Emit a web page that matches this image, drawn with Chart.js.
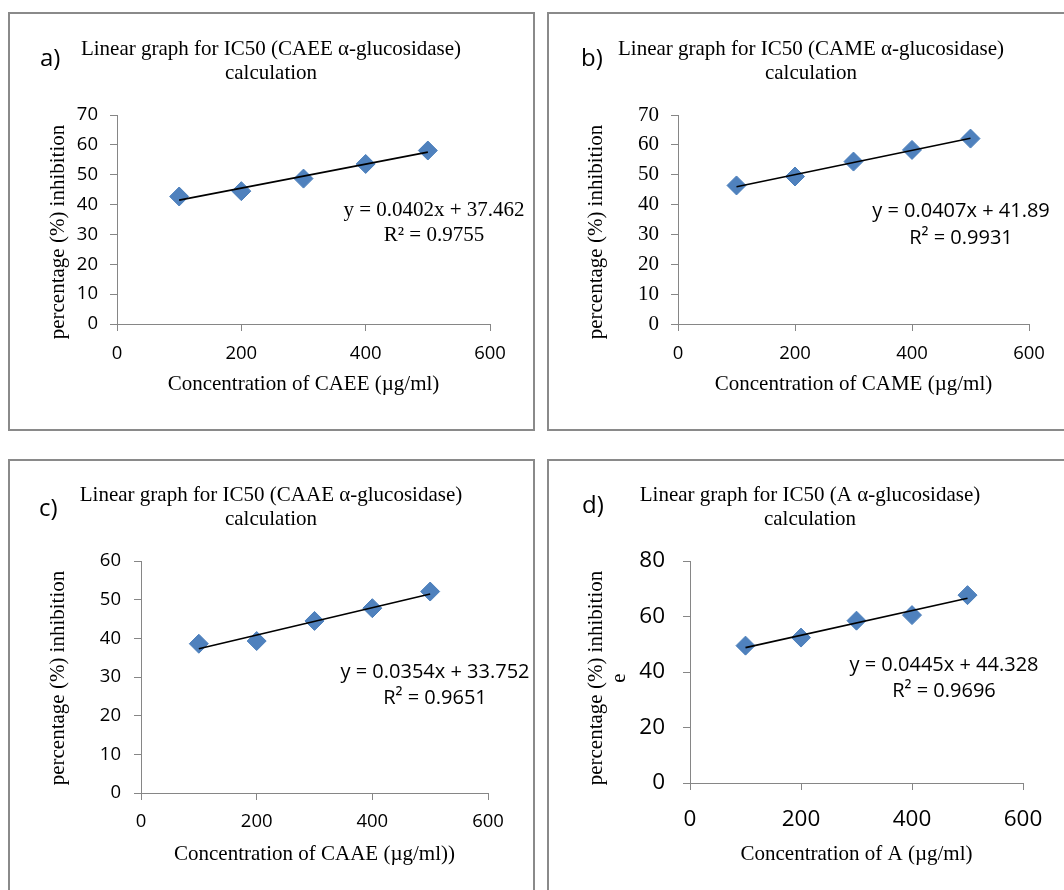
<!DOCTYPE html>
<html>
<head>
<meta charset="utf-8">
<script src="https://cdn.jsdelivr.net/npm/chart.js@4.4.0/dist/chart.umd.min.js"></script>
<style>
  body { margin: 0; background: #fff; width: 1064px; height: 890px; overflow: hidden; position: relative; }
  .panel { position: absolute; border: 2px solid #8a8a8a; box-sizing: border-box; }
  canvas { position: absolute; }
</style>
</head>
<body>
<script>
// concentrations (µg/ml) shared by all four extracts
const concentrations = [100, 200, 300, 400, 500];

// % inhibition for each extract
const inhibitionCAEE = [42.7, 44.5, 48.7, 53.6, 58.1];
const inhibitionCAME = [46.4, 49.4, 54.4, 58.3, 62.1];
const inhibitionCAAE = [38.6, 39.3, 44.5, 47.8, 52.1];
const inhibitionA = [49.5, 52.4, 58.5, 60.5, 67.7];

// linear fits as reported
const fitSlopes = [0.0402, 0.0407, 0.0354, 0.0445];
const fitIntercepts = [37.462, 41.89, 33.752, 44.328];
const fitR2 = ['0.9755', '0.9931', '0.9651', '0.9696'];

const panelLetters = ['a)', 'b)', 'c)', 'd)'];
const chartTitles = [
  ['Linear graph for IC50 (CAEE α-glucosidase)', 'calculation'],
  ['Linear graph for IC50 (CAME α-glucosidase)', 'calculation'],
  ['Linear graph for IC50 (CAAE α-glucosidase)', 'calculation'],
  ['Linear graph for IC50 (A α-glucosidase)', 'calculation']
];
const xTitles = [
  'Concentration of CAEE (µg/ml)',
  'Concentration of CAME (µg/ml)',
  'Concentration of CAAE (µg/ml))',
  'Concentration of A (µg/ml)'
];
const yTitles = [
  ['percentage (%) inhibition'],
  ['percentage (%) inhibition'],
  ['percentage (%) inhibition'],
  ['percentage (%) inhibition', 'e']
];
const xMin = 0, xMax = 600, xStep = 200;
const yMaxes = [70, 70, 60, 80];
const ySteps = [10, 10, 10, 20];

const seriesList = [inhibitionCAEE, inhibitionCAME, inhibitionCAAE, inhibitionA];

const SERIF = '"Liberation Serif", "Times New Roman", serif';
const SANS = '"Open Sans", "Liberation Sans", sans-serif';

// box and plot-area geometry for each panel (canvas pixels);
// boxHeight lets the lower frames run past the page edge
const panelLayouts = [
  { left: 8, top: 12, width: 527, height: 419, boxHeight: 419, area: { left: 109, right: 482, top: 103, bottom: 312 },
    xTitlePad: 34, yTickFont: { family: SANS, size: 18.5 }, yTickPad: 12, xTickFont: { family: SANS, size: 18.5 }, xTickPad: 12,
    title: { x: 263, y: 43 }, letter: { x: 32, y: 54 }, yTitle: { x: 56, y: 220 },
    eq: { x: 426, y: 204, gap: 24.5, font: '21px ' + SERIF } },
  { left: 547, top: 12, width: 530, height: 419, boxHeight: 419, area: { left: 131, right: 482, top: 103, bottom: 312 },
    xTitlePad: 34, yTickFont: { family: SERIF, size: 21 }, yTickPad: 12, xTickFont: { family: SANS, size: 18.5 }, xTickPad: 12,
    title: { x: 264, y: 43 }, letter: { x: 34, y: 54 }, yTitle: { x: 55, y: 220 },
    eq: { x: 414, y: 205, gap: 26.5, font: '20px ' + SANS } },
  { left: 8, top: 459, width: 527, height: 431, boxHeight: 460, area: { left: 133, right: 480, top: 102, bottom: 334 },
    xTitlePad: 23, yTickFont: { family: SANS, size: 18.5 }, yTickPad: 13, xTickFont: { family: SANS, size: 18.5 }, xTickPad: 11,
    title: { x: 263, y: 42 }, letter: { x: 31, y: 57 }, yTitle: { x: 56, y: 219 },
    eq: { x: 427, y: 219, gap: 25.5, font: '20px ' + SANS } },
  { left: 547, top: 459, width: 530, height: 431, boxHeight: 460, area: { left: 143, right: 476, top: 102, bottom: 324 },
    xTitlePad: 23, yTickFont: { family: SANS, size: 22.5 }, yTickPad: 18, xTickFont: { family: SANS, size: 22.5 }, xTickPad: 16,
    title: { x: 263, y: 42 }, letter: { x: 35, y: 54 }, yTitle: { x: 55, y: 219 },
    eq: { x: 397, y: 212, gap: 25.5, font: '20px ' + SANS } }
];

// panel letter, two-line heading, rotated y title and the fit equation
const panelText = {
  id: 'panelText',
  afterDraw(chart, args, opts) {
    const ctx = chart.ctx;
    const L = opts.layout;
    ctx.save();
    ctx.fillStyle = '#000';
    ctx.textBaseline = 'alphabetic';

    ctx.font = '21px ' + SERIF;
    ctx.textAlign = 'center';
    opts.title.forEach((line, i) => ctx.fillText(line, L.title.x, L.title.y + i * 24));

    ctx.font = '24px ' + SANS;
    ctx.textAlign = 'left';
    ctx.fillText(opts.letter, L.letter.x, L.letter.y);

    ctx.save();
    ctx.translate(L.yTitle.x, L.yTitle.y);
    ctx.rotate(-Math.PI / 2);
    ctx.font = '21px ' + SERIF;
    ctx.textAlign = 'center';
    opts.yTitle.forEach((line, i) => ctx.fillText(line, 0, i * 23));
    ctx.restore();

    ctx.font = L.eq.font;
    ctx.textAlign = 'center';
    ctx.fillText(opts.equation, L.eq.x, L.eq.y);
    ctx.fillText(opts.r2, L.eq.x, L.eq.y + L.eq.gap);
    ctx.restore();
  }
};

function buildPanel(i) {
  const L = panelLayouts[i];
  const box = document.createElement('div');
  box.className = 'panel';
  Object.assign(box.style, { left: L.left + 'px', top: L.top + 'px', width: L.width + 'px', height: L.boxHeight + 'px' });
  document.body.appendChild(box);

  const canvas = document.createElement('canvas');
  canvas.width = L.width;
  canvas.height = L.height;
  Object.assign(canvas.style, { left: L.left + 'px', top: L.top + 'px', width: L.width + 'px', height: L.height + 'px' });
  document.body.appendChild(canvas);

  const values = seriesList[i];
  const points = concentrations.map((c, k) => ({ x: c, y: values[k] }));
  const x0 = concentrations[0], x1 = concentrations[concentrations.length - 1];
  const fitLine = [
    { x: x0, y: fitSlopes[i] * x0 + fitIntercepts[i] },
    { x: x1, y: fitSlopes[i] * x1 + fitIntercepts[i] }
  ];

  const axisGray = '#868686';

  new Chart(canvas.getContext('2d'), {
    type: 'scatter',
    data: {
      datasets: [
        {
          label: 'Linear fit',
          data: fitLine,
          showLine: true,
          borderColor: '#000',
          borderWidth: 1.6,
          pointRadius: 0
        },
        {
          label: '% inhibition',
          data: points,
          pointStyle: 'rectRot',
          pointRadius: 9.5,
          backgroundColor: '#4F81BD',
          borderColor: '#4A7EBB',
          borderWidth: 1
        }
      ]
    },
    options: {
      responsive: false,
      animation: false,
      devicePixelRatio: 1,
      layout: {
        padding: { left: 0, top: L.area.top, right: L.width - L.area.right, bottom: 0 }
      },
      scales: {
        x: {
          type: 'linear',
          min: xMin,
          max: xMax,
          afterFit: (scale) => { scale.height = L.height - L.area.bottom; },
          ticks: { stepSize: xStep, color: '#000', font: L.xTickFont, padding: L.xTickPad, maxRotation: 0 },
          grid: { drawOnChartArea: false, drawTicks: true, tickLength: 7, color: axisGray },
          border: { display: true, color: axisGray, width: 1 },
          title: {
            display: true,
            text: xTitles[i],
            color: '#000',
            font: { family: SERIF, size: 21 },
            padding: { top: 0, bottom: L.xTitlePad }
          }
        },
        y: {
          type: 'linear',
          min: 0,
          max: yMaxes[i],
          afterFit: (scale) => { scale.width = L.area.left; },
          ticks: { stepSize: ySteps[i], color: '#000', font: L.yTickFont, padding: L.yTickPad },
          grid: { drawOnChartArea: false, drawTicks: true, tickLength: 7, color: axisGray },
          border: { display: true, color: axisGray, width: 1 }
        }
      },
      plugins: {
        legend: { display: false },
        tooltip: { enabled: false },
        panelText: {
          layout: L,
          title: chartTitles[i],
          letter: panelLetters[i],
          yTitle: yTitles[i],
          equation: 'y = ' + fitSlopes[i] + 'x + ' + fitIntercepts[i],
          r2: 'R² = ' + fitR2[i]
        }
      }
    },
    plugins: [panelText]
  });
}

for (let i = 0; i < 4; i++) buildPanel(i);
</script>
</body>
</html>
